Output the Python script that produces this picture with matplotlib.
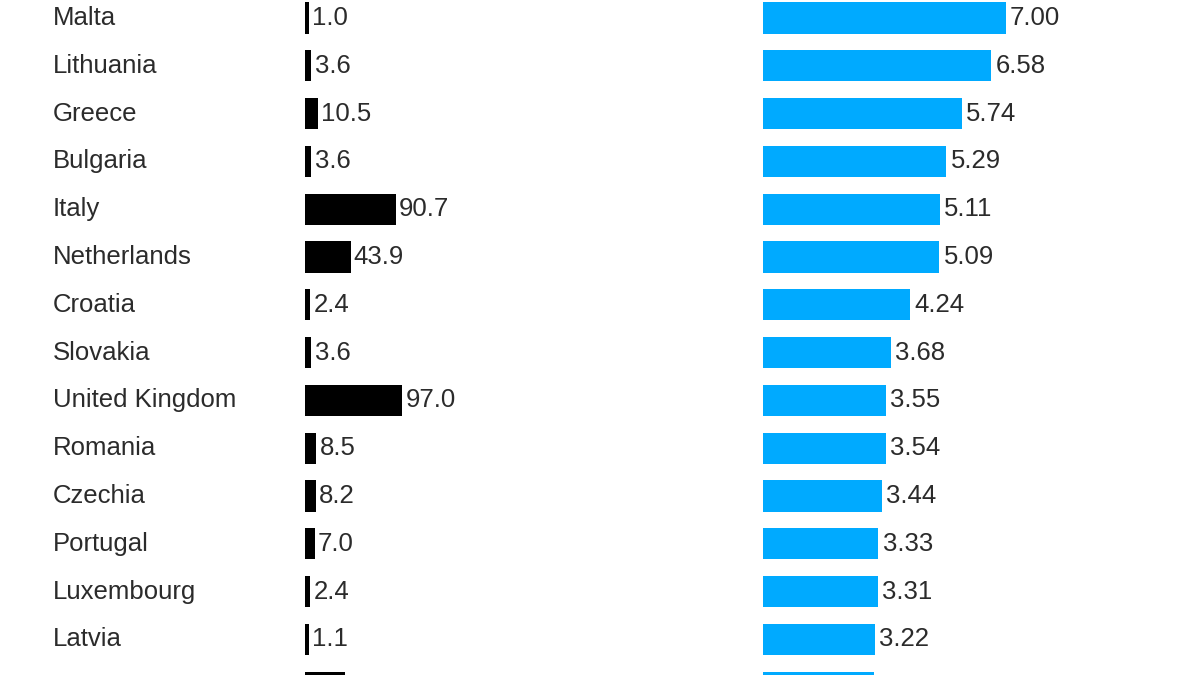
import numpy as np
import matplotlib
matplotlib.use('Agg')
import matplotlib.pyplot as plt
from matplotlib import transforms

# rows top to bottom; the last row is cut off by the frame (its name is not visible)
countries = ['Malta', 'Lithuania', 'Greece', 'Bulgaria', 'Italy', 'Netherlands', 'Croatia',
             'Slovakia', 'United Kingdom', 'Romania', 'Czechia', 'Portugal', 'Luxembourg',
             'Latvia', '']
left_values = [1.0, 3.6, 10.5, 3.6, 90.7, 43.9, 2.4, 3.6, 97.0, 8.5, 8.2, 7.0, 2.4, 1.1, 38.0]
right_values = [7.00, 6.58, 5.74, 5.29, 5.11, 5.09, 4.24, 3.68, 3.55, 3.54, 3.44, 3.33, 3.31,
                3.22, 3.21]

W, H = 1200, 675
row_px = 47.8
first_px = 18.0
text_color = '#2b2b2b'
blue = '#00AAFF'
fs = 18.5

plt.rcParams['font.family'] = ['Liberation Sans', 'DejaVu Sans']

fig = plt.figure(figsize=(W / 100, H / 100), dpi=100)

y = np.arange(len(countries))
ylim = ((H - first_px) / row_px, -first_px / row_px)

# left panel: about 0.97 px per unit
ax1 = fig.add_axes([305 / W, 0, 300 / W, 1])
ax1.set_xlim(0, 300 / 0.97)
ax1.set_ylim(*ylim)
edge_px = 6.0
ax1.barh(y, left_values, height=0.65 - edge_px / row_px, color='black', edgecolor='black',
         linewidth=edge_px * 72 / 100, joinstyle='miter')
for yi, v in zip(y, left_values):
    if yi < len(y) - 1:
        ax1.annotate(f'{v:.1f}', (v, yi), xytext=(4.5, 0), textcoords='offset points',
                     va='center', ha='left', fontsize=fs, color=text_color)

# right panel: 34.67 px per unit
ax2 = fig.add_axes([763 / W, 0, 437 / W, 1])
ax2.set_xlim(0, 437 / 34.67)
ax2.set_ylim(*ylim)
ax2.barh(y, right_values, height=0.65, color=blue)
for yi, v in zip(y, right_values):
    if yi < len(y) - 1:
        ax2.annotate(f'{v:.2f}', (v, yi), xytext=(3, 0), textcoords='offset points',
                     va='center', ha='left', fontsize=fs, color=text_color)

for ax in (ax1, ax2):
    ax.axis('off')

# country names
trans = transforms.blended_transform_factory(fig.transFigure, ax1.transData)
for yi, name in zip(y, countries):
    if name:
        ax1.text(53 / W, yi, name, transform=trans, va='center', ha='left',
                 fontsize=fs, color=text_color, clip_on=False)

fig.savefig('out.png', dpi=100)
